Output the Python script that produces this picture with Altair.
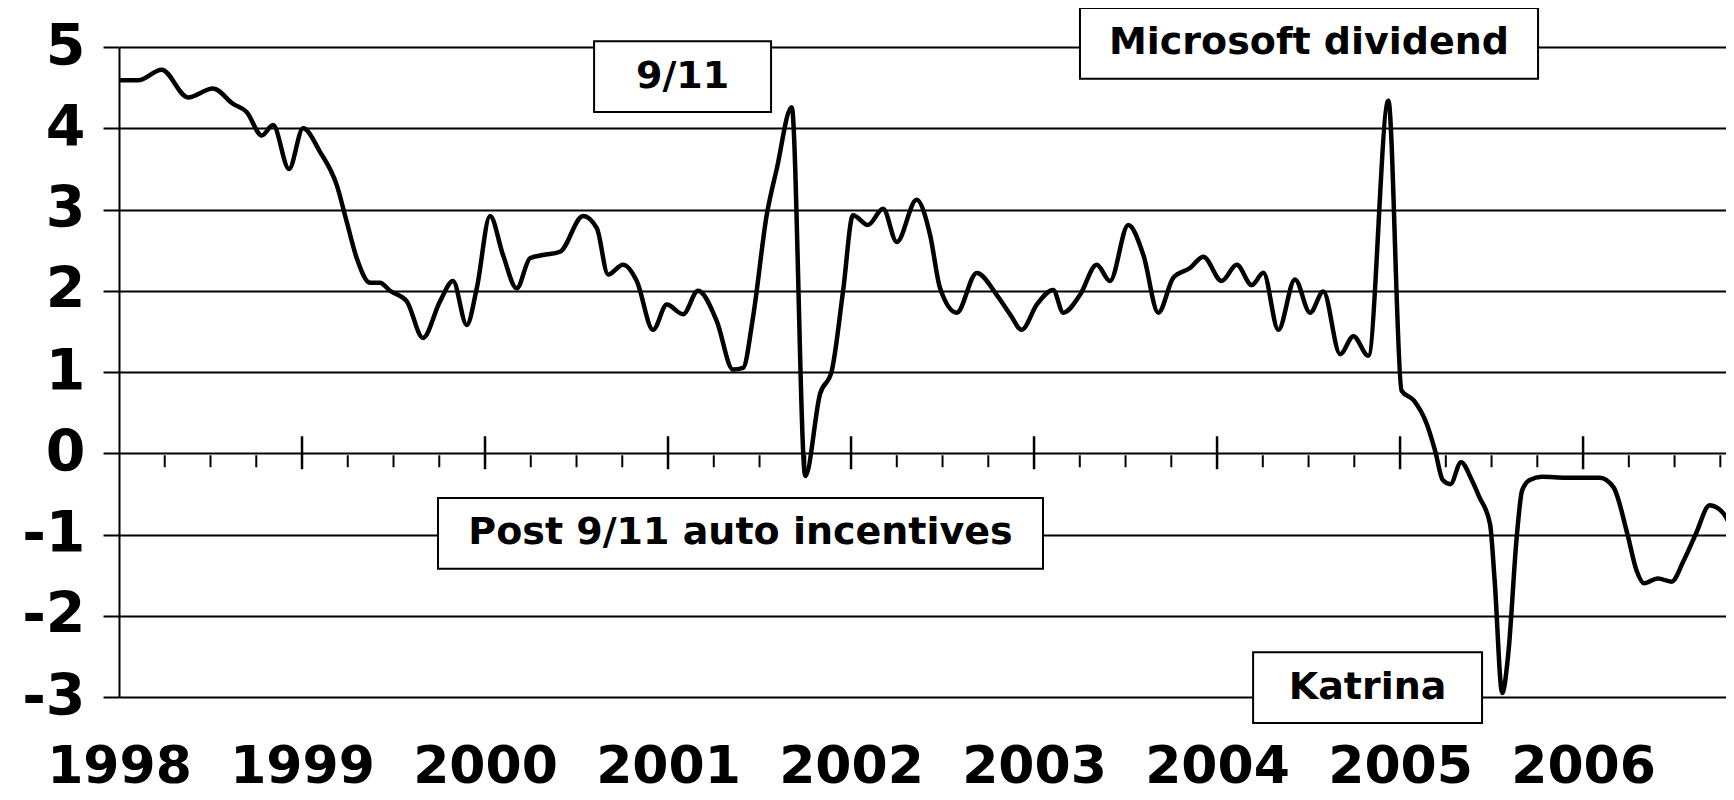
import altair as alt
import pandas as pd

FONT = "DejaVu Sans"

# months since Jan 1998 and the plotted value
months = [0, 1.25, 2.8, 4.52, 6.16, 7.48, 8.37, 9.36, 10.1, 11.15,
          12.07, 13.18, 14.28, 14.93, 15.59, 16.46, 17.11, 17.77, 18.87, 19.93,
          21.05, 21.9, 22.8, 23.46, 24.33, 25.18, 26.08, 26.95, 27.8, 28.92,
          30.43, 31.33, 32.07, 33.05, 33.95, 35.02, 35.92, 36.98, 37.97, 39.19,
          40.26, 40.92, 41.57, 42.47, 43.13, 44.11, 45.0, 45.97, 46.73, 47.48,
          48.13, 49.11, 50.1, 51.0, 52.3, 53.18, 53.84, 54.93, 56.24, 57.55,
          58.43, 59.19, 60.18, 61.25, 61.92, 63.02, 64.11, 64.98, 66.18, 67.17,
          68.15, 69.13, 70.23, 71.1, 72.3, 73.29, 74.28, 75.04, 76.02, 77.11,
          78.1, 78.97, 80.07, 80.94, 81.92, 83.23, 84.1, 84.9, 85.75, 86.3,
          86.8, 87.3, 88.0, 88.7, 89.2, 89.9, 90.2, 90.7, 91.1, 91.65,
          92.0, 92.5, 93.3, 94.9, 97.1, 98.0, 98.9, 99.5, 100.0, 100.9,
          101.8, 102.6, 103.4, 104.3, 105.2, 105.9]

values = [4.59, 4.59, 4.72, 4.38, 4.49, 4.30, 4.20, 3.91, 4.04, 3.50,
          4.00, 3.71, 3.30, 2.85, 2.40, 2.10, 2.10, 2.00, 1.87, 1.42,
          1.87, 2.12, 1.58, 2.03, 2.92, 2.44, 2.03, 2.40, 2.44, 2.48,
          2.92, 2.77, 2.20, 2.32, 2.12, 1.52, 1.83, 1.71, 2.00, 1.63,
          1.03, 1.05, 1.67, 2.93, 3.50, 4.26, -0.28, 0.73, 1.01, 2.00,
          2.93, 2.81, 3.01, 2.60, 3.12, 2.69, 2.03, 1.73, 2.22, 1.95,
          1.71, 1.52, 1.83, 2.01, 1.73, 1.95, 2.32, 2.12, 2.81, 2.44,
          1.73, 2.16, 2.28, 2.42, 2.12, 2.32, 2.07, 2.22, 1.52, 2.14,
          1.73, 1.99, 1.22, 1.44, 1.20, 4.34, 0.77, 0.65, 0.36, 0.03,
          -0.33, -0.38, -0.11, -0.33, -0.54, -0.87, -1.56, -2.95, -2.46, -1.03,
          -0.46, -0.33, -0.29, -0.30, -0.30, -0.42, -0.99, -1.44, -1.60, -1.54,
          -1.58, -1.32, -0.99, -0.64, -0.74, -0.99]

year_labels = [1998, 1999, 2000, 2001, 2002, 2003, 2004, 2005, 2006]
y_ticks = [-3, -2, -1, 0, 1, 2, 3, 4, 5]
major_ticks = [1999, 2000, 2001, 2002, 2003, 2004, 2005, 2006]
minor_ticks = [y + q for y in range(1998, 2007) for q in (0.25, 0.5, 0.75)]

ann_labels = ["9/11", "Microsoft dividend", "Post 9/11 auto incentives", "Katrina"]
ann_x1 = [2000.596, 2003.251, 1999.743, 2004.197]
ann_x2 = [2001.563, 2005.754, 2003.049, 2005.448]
ann_y1 = [5.07, 5.48, -0.55, -2.45]
ann_y2 = [4.20, 4.61, -1.42, -3.32]

df = pd.DataFrame({"year": [1998 + m / 12 for m in months], "value": values})
df_major = pd.DataFrame({"t": major_ticks})
df_minor = pd.DataFrame({"t": minor_ticks})
df_ann = pd.DataFrame({"label": ann_labels, "x1": ann_x1, "x2": ann_x2,
                       "y1": ann_y1, "y2": ann_y2})
df_ann["xc"] = (df_ann.x1 + df_ann.x2) / 2
df_ann["yc"] = (df_ann.y1 + df_ann.y2) / 2

x_scale = alt.Scale(domain=[1998, 2006.781], nice=False, zero=False)
y_scale = alt.Scale(domain=[-3, 5], nice=False, zero=False)

x_axis = alt.Axis(values=year_labels, format="d", labelFontSize=52, labelFont=FONT,
                  labelFontWeight="bold", labelColor="black", ticks=False, domain=False,
                  grid=False, labelPadding=96, labelBaseline="bottom",
                  labelFlush=False, labelOverlap=False, title=None)
y_axis = alt.Axis(values=y_ticks, labelExpr="'' + datum.value", grid=True,
                  gridColor="black", gridWidth=2, gridOpacity=1, tickSize=16,
                  tickColor="black", tickWidth=2, domain=True, domainColor="black",
                  domainWidth=2, labelFontSize=57, labelFont=FONT, labelFontWeight="bold",
                  labelColor="black", labelPadding=18, title=None)

line = alt.Chart(df).mark_line(color="black", strokeWidth=4.5, interpolate="monotone",
                               clip=True).encode(
    x=alt.X("year:Q", scale=x_scale, axis=x_axis),
    y=alt.Y("value:Q", scale=y_scale, axis=y_axis),
)

major = alt.Chart(df_major).mark_rule(color="black", strokeWidth=2.5,
                                      yOffset=-17, y2Offset=16).encode(
    x=alt.X("t:Q", scale=x_scale, axis=x_axis),
    y=alt.YDatum(0, scale=y_scale, axis=y_axis),
    y2=alt.Y2Datum(0),
)

minor = alt.Chart(df_minor).mark_rule(color="black", strokeWidth=2,
                                      yOffset=2, y2Offset=14).encode(
    x=alt.X("t:Q", scale=x_scale, axis=x_axis),
    y=alt.YDatum(0, scale=y_scale, axis=y_axis),
    y2=alt.Y2Datum(0),
)

boxes = alt.Chart(df_ann).mark_rect(fill="white", stroke="black", strokeWidth=2).encode(
    x=alt.X("x1:Q", scale=x_scale, axis=x_axis),
    x2="x2:Q",
    y=alt.Y("y1:Q", scale=y_scale, axis=y_axis),
    y2="y2:Q",
)

texts = alt.Chart(df_ann).mark_text(font=FONT, fontSize=38, fontWeight="bold",
                                    color="black", align="center",
                                    baseline="middle").encode(
    x=alt.X("xc:Q", scale=x_scale, axis=x_axis),
    y=alt.Y("yc:Q", scale=y_scale, axis=y_axis),
    text="label:N",
)

chart = alt.layer(line, major, minor, boxes, texts).properties(
    width=1607, height=650,
    padding={"left": 111, "top": 39, "right": 0, "bottom": 97},
    autosize=alt.AutoSizeParams(type="none"),
).configure_view(strokeWidth=0)

chart.save("out.html", embed_options={"renderer": "svg", "actions": False})
